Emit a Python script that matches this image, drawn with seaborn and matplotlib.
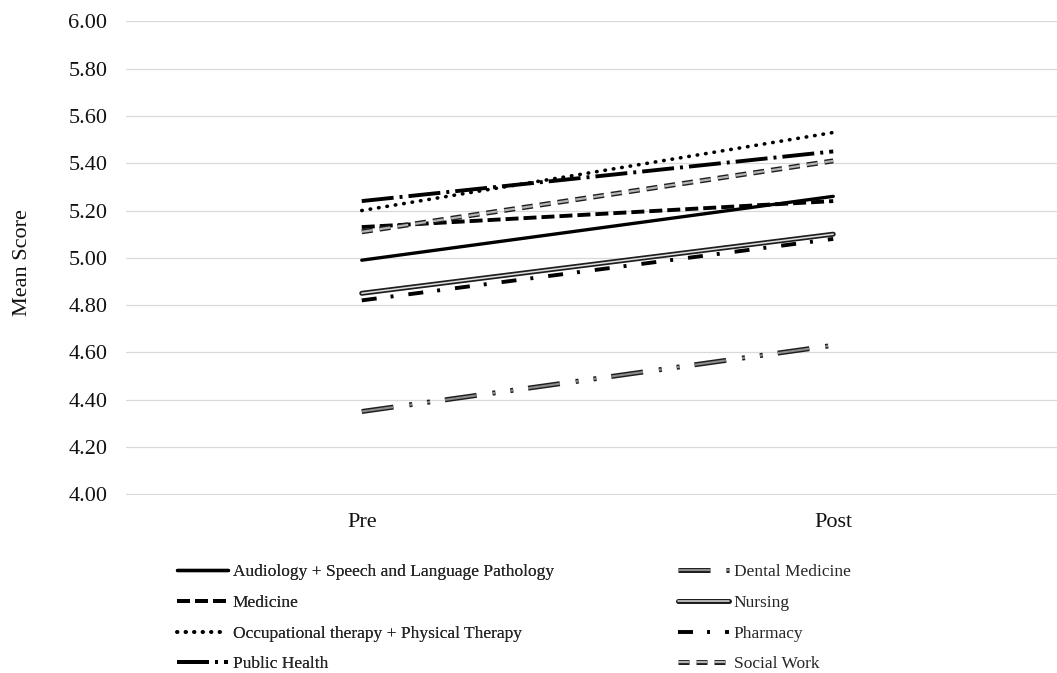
import pandas as pd
import matplotlib
matplotlib.use("Agg")
import matplotlib.pyplot as plt
import matplotlib.patheffects as pe
import seaborn as sns


programs = [
    "Audiology + Speech and Language Pathology",
    "Dental Medicine",
    "Medicine",
    "Nursing",
    "Occupational therapy + Physical Therapy",
    "Pharmacy",
    "Public Health",
    "Social Work",
]
times = ["Pre", "Post"]
pre_scores = [4.99, 4.35, 5.13, 4.85, 5.20, 4.82, 5.24, 5.11]
post_scores = [5.26, 4.63, 5.24, 5.10, 5.53, 5.08, 5.45, 5.41]
y_ticks = [4.00, 4.20, 4.40, 4.60, 4.80, 5.00, 5.20, 5.40, 5.60, 5.80, 6.00]


def px(*vals):
    # dash lengths measured in pixels -> points (dpi 100)
    return tuple(v * 0.72 for v in vals)


def main():
    rows = []
    for prog, a, b in zip(programs, pre_scores, post_scores):
        rows.append({"Program": prog, "Time": times[0], "Score": a})
        rows.append({"Program": prog, "Time": times[1], "Score": b})
    df = pd.DataFrame(rows)

    sns.set_style("white")
    plt.rcParams["font.family"] = ["Liberation Serif", "DejaVu Serif"]
    plt.rcParams["lines.scale_dashes"] = False

    palette = {
        programs[0]: "#000000",
        programs[1]: "#8c8c8c",
        programs[2]: "#000000",
        programs[3]: "#e0e0e0",
        programs[4]: "#000000",
        programs[5]: "#000000",
        programs[6]: "#000000",
        programs[7]: "#b4b4b4",
    }
    dashes = {
        programs[0]: "",
        programs[1]: px(32, 16, 3, 15, 3, 15),
        programs[2]: px(13, 5),
        programs[3]: "",
        programs[4]: px(0.5, 8),
        programs[5]: px(15, 14, 3, 15),
        programs[6]: px(32, 6, 3, 6),
        programs[7]: px(11, 7),
    }
    widths = [2.4, 1.5, 2.8, 1.1, 2.6, 2.8, 2.8, 1.6]
    outline = {1: 3.6, 3: 3.6, 7: 3.6}

    fig = plt.figure(figsize=(10.57, 6.73), dpi=100)
    ax = fig.add_axes([126 / 1057, 0.2645, 943 / 1057, 0.7048])

    sns.lineplot(data=df, x="Time", y="Score", hue="Program", style="Program",
                 hue_order=programs, style_order=programs, palette=palette,
                 dashes=dashes, errorbar=None, sort=False, legend=False, ax=ax)

    lines = ax.get_lines()
    for i, ln in enumerate(lines):
        ln.set_linewidth(widths[i])
        if i == 4:
            ln.set_dash_capstyle("round")
        if i in outline:
            ln.set_path_effects([pe.Stroke(linewidth=outline[i], foreground="#1e1e1e"),
                                 pe.Normal()])

    ax.set_ylim(3.997, 6.003)
    ax.set_xlim(-0.5, 1.5)
    ax.set_yticks(y_ticks)
    ax.set_yticklabels([f"{v:.2f}" for v in y_ticks])
    ax.grid(axis="y", color="#d9d9d9", linewidth=0.9)
    ax.grid(axis="x", visible=False)
    ax.set_axisbelow(True)
    for sp in ax.spines.values():
        sp.set_visible(False)
    ax.tick_params(axis="y", length=0, pad=13.5, labelsize=16, colors="#111111")
    ax.tick_params(axis="x", length=0, pad=13, labelsize=16, colors="#111111")
    ax.set_xlabel("")
    ax.set_ylabel("Mean Score", fontsize=16, color="#111111")
    ax.yaxis.set_label_coords(-0.1, 0.49)

    leg_kw = dict(frameon=False, fontsize=12.5, loc="upper left", borderpad=0,
                  borderaxespad=0, handlelength=2.95, handletextpad=0.25,
                  labelspacing=0.84)
    col1 = [0, 2, 4, 6]
    col2 = [1, 3, 5, 7]
    leg1 = fig.legend([lines[i] for i in col1], [programs[i] for i in col1],
                      bbox_to_anchor=(177 / 1057, 0.162), **leg_kw)
    fig.legend([lines[i] for i in col2], [programs[i] for i in col2],
               bbox_to_anchor=(678 / 1057, 0.162), **leg_kw)
    fig.add_artist(leg1)

    fig.savefig("out.png", dpi=100)


if __name__ == "__main__":
    main()
